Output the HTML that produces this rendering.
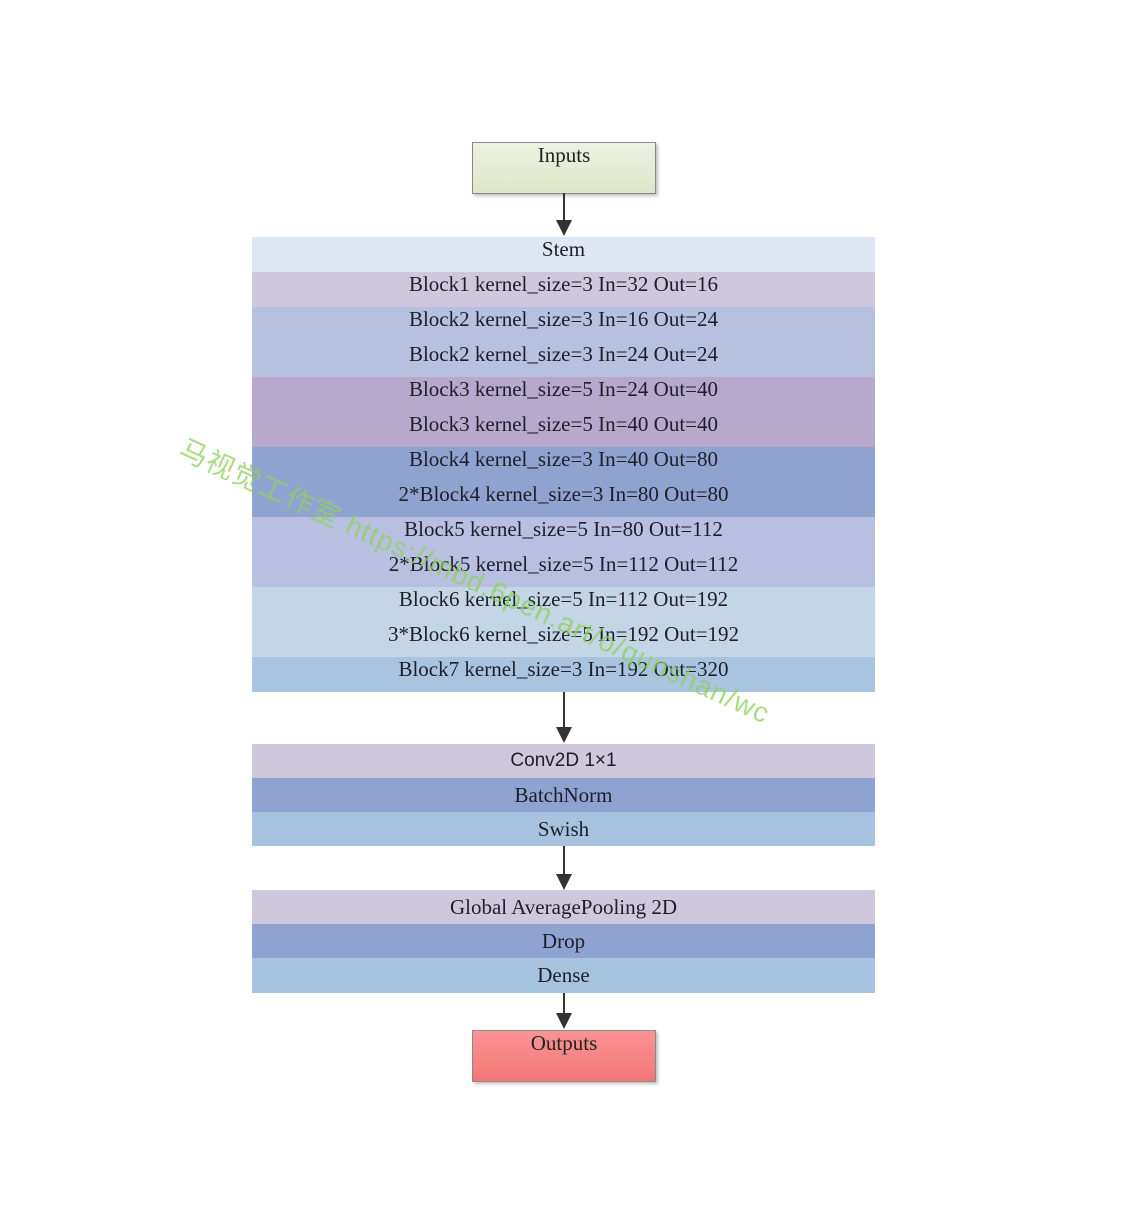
<!DOCTYPE html>
<html><head><meta charset="utf-8"><style>
html,body{margin:0;padding:0;background:#fff;width:1136px;height:1213px;overflow:hidden;position:relative}
.r{position:absolute;left:252px;width:623px;height:35px;line-height:35px;text-align:center;font:21px "Liberation Serif",serif;color:#1e1e28}
.box{position:absolute;left:472px;width:182px;height:50px;line-height:50px;text-align:center;font:21px "Liberation Serif",serif;color:#222;border:1px solid #8a8a8a;box-shadow:2px 2px 3px rgba(0,0,0,.25)}
.ln{position:absolute;left:563px;width:2px;background:#333}
.ah{position:absolute;left:556px;width:0;height:0;border-left:8px solid transparent;border-right:8px solid transparent;border-top:16px solid #333}
.wm{position:absolute;left:190px;top:428px;transform-origin:0 0;transform:rotate(24.5deg);font:28px "Liberation Sans","Noto Sans CJK SC",sans-serif;color:rgba(140,210,90,.75);white-space:nowrap;letter-spacing:1px}
</style></head><body>
<div class="box" style="top:142px;background:linear-gradient(#eef2e2,#dde6c8)">Inputs</div>
<div class="ln" style="top:193px;height:27px"></div><div class="ah" style="top:220px"></div>

<div class="r" style="top:237px;background:#dfe8f2">Stem</div>
<div class="r" style="top:272px;background:#cfc8dc">Block1 kernel_size=3 In=32 Out=16</div>
<div class="r" style="top:307px;background:#b8c0e0">Block2 kernel_size=3 In=16 Out=24</div>
<div class="r" style="top:342px;background:#b8c0e0">Block2 kernel_size=3 In=24 Out=24</div>
<div class="r" style="top:377px;background:#b6a9cc">Block3 kernel_size=5 In=24 Out=40</div>
<div class="r" style="top:412px;background:#b6a9cc">Block3 kernel_size=5 In=40 Out=40</div>
<div class="r" style="top:447px;background:#90a2d0">Block4 kernel_size=3 In=40 Out=80</div>
<div class="r" style="top:482px;background:#90a2d0">2*Block4 kernel_size=3 In=80 Out=80</div>
<div class="r" style="top:517px;background:#b8bfe0">Block5 kernel_size=5 In=80 Out=112</div>
<div class="r" style="top:552px;background:#b8bfe0">2*Block5 kernel_size=5 In=112 Out=112</div>
<div class="r" style="top:587px;background:#c4d6e6">Block6 kernel_size=5 In=112 Out=192</div>
<div class="r" style="top:622px;background:#c4d6e6">3*Block6 kernel_size=5 In=192 Out=192</div>
<div class="r" style="top:657px;background:#a8c4e0">Block7 kernel_size=3 In=192 Out=320</div>

<div class="ln" style="top:692px;height:36px"></div><div class="ah" style="top:727px"></div>

<div class="r" style="top:744px;height:34px;line-height:34px;background:#cfc8dc;font-family:'Liberation Sans',sans-serif;font-size:19px">Conv2D 1×1</div>
<div class="r" style="top:778px;height:34px;line-height:34px;background:#90a2d2">BatchNorm</div>
<div class="r" style="top:812px;height:34px;line-height:34px;background:#a6c4e0">Swish</div>

<div class="ln" style="top:846px;height:29px"></div><div class="ah" style="top:874px"></div>

<div class="r" style="top:890px;height:34px;line-height:34px;background:#cfc8dc">Global AveragePooling 2D</div>
<div class="r" style="top:924px;height:34px;line-height:34px;background:#90a2d2">Drop</div>
<div class="r" style="top:958px;height:35px;line-height:35px;background:#a6c4e0">Dense</div>

<div class="ln" style="top:993px;height:21px"></div><div class="ah" style="top:1013px"></div>
<div class="box" style="top:1030px;background:linear-gradient(#fb9494,#f47676)">Outputs</div>

<div class="wm">马视觉工作室 https://mbd.6pen.art/o/qunshan/wc</div>
</body></html>
